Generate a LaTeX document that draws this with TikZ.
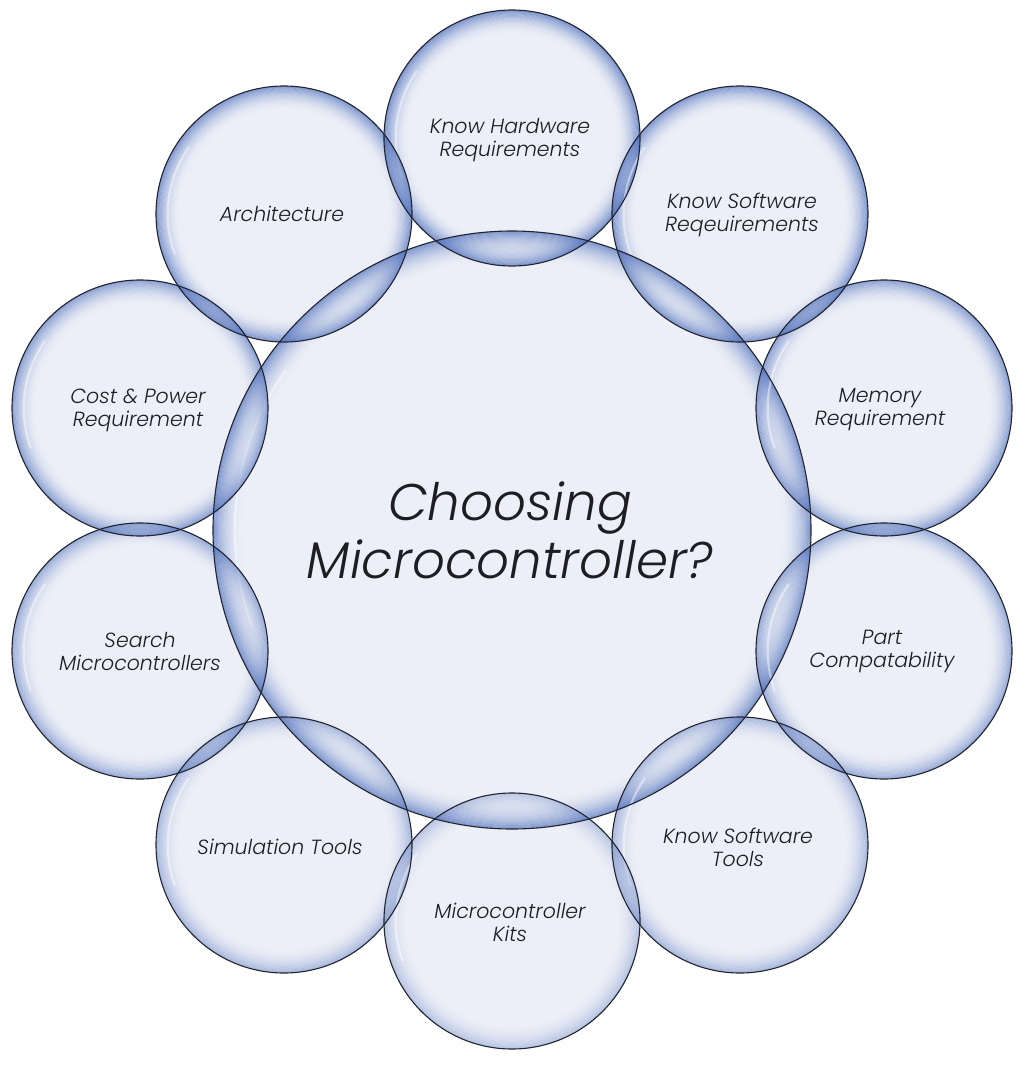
\documentclass[tikz,border=0pt]{standalone}
\usepackage{fontspec}
\setmainfont{Poppins}[UprightFont=* Light, ItalicFont=* Light Italic]
\definecolor{pale}{HTML}{ECEFF7}
\definecolor{rimblue}{HTML}{3E62B6}
\definecolor{edgecol}{HTML}{22242E}
\definecolor{txt}{HTML}{1E1E22}
\begin{document}
\begin{tikzpicture}[x=1pt,y=-1pt,
  bubble/.style={circle, fill=pale, inner sep=0pt, minimum size=256pt},
  hub/.style={circle, fill=pale, inner sep=0pt, minimum size=598pt},
  outline/.style={draw=edgecol, line width=1.1pt},
  lbl/.style={align=center, text=txt, font=\fontsize{20.5}{23}\selectfont\itshape},
  hubtxt/.style={align=center, text=txt, font=\fontsize{51.5}{58}\selectfont\itshape}]
\useasboundingbox (0,0) rectangle (1024,1065);
\fill[white] (0,0) rectangle (1024,1065);
% fills
\node[hub] (c) at (512,530) {};
\node[bubble] (hw) at (512,138) {};
\node[bubble] (swr) at (740,214) {};
\node[bubble] (mem) at (884,408) {};
\node[bubble] (part) at (884,651) {};
\node[bubble] (swt) at (740,845) {};
\node[bubble] (kits) at (512,921) {};
\node[bubble] (sim) at (284,845) {};
\node[bubble] (search) at (140,651) {};
\node[bubble] (cost) at (140,408) {};
\node[bubble] (arch) at (284,214) {};
% rims
\foreach \n/\r/\f/\w in {c/299/0.95/2.1, hw/128/1.0/1.7, swr/128/0.95/1.7, arch/128/0.95/1.7,
   mem/128/0.85/1.7, cost/128/0.85/1.7, part/128/0.72/1.7, search/128/0.72/1.7,
   swt/128/0.58/1.7, sim/128/0.58/1.7, kits/128/0.45/1.7}{
  \foreach \k in {0,...,13}{
    \pgfmathsetmacro\op{\f*0.62*(1-\k/14)^2}
    \pgfmathsetmacro\rr{\r-\w/2-\k*\w}
    \draw[rimblue, line width=\w pt, draw opacity=\op] (\n.center) circle[radius=\rr];
  }
  \pgfmathsetmacro\hr{\r-0.06*\r-4}
  \draw[white, line width=2.2pt, draw opacity=0.45, line cap=round]
    ([shift={(-145:\hr)}]\n.center) arc[start angle=-145, end angle=-200, radius=\hr];
}
% outlines
\foreach \n/\r in {c/299, hw/128, swr/128, arch/128, mem/128, cost/128, part/128,
   search/128, swt/128, sim/128, kits/128}{
  \draw[outline] (\n.center) circle[radius=\r];
}
% labels
\node[hubtxt] (thub) at (510,530) {Choosing\\Microcontroller?};
\node[lbl] (thw) at (510,140) {Know Hardware\\Requirements};
\node[lbl] (tswr) at (742,215) {Know Software\\Reqeuirements};
\node[lbl] (tmem) at (880,410) {Memory\\Requirement};
\node[lbl] (tpart) at (882,651) {Part\\Compatability};
\node[lbl] (tswt) at (738,847) {Know Software\\Tools};
\node[lbl] (tkits) at (510,922) {Microcontroller\\Kits};
\node[lbl] (tsim) at (280,847) {Simulation Tools};
\node[lbl] (tsearch) at (140,651) {Search\\Microcontrollers};
\node[lbl] (tcost) at (138,410) {Cost \& Power\\Requirement};
\node[lbl] (tarch) at (282,214) {Architecture};
\end{tikzpicture}
\end{document}
